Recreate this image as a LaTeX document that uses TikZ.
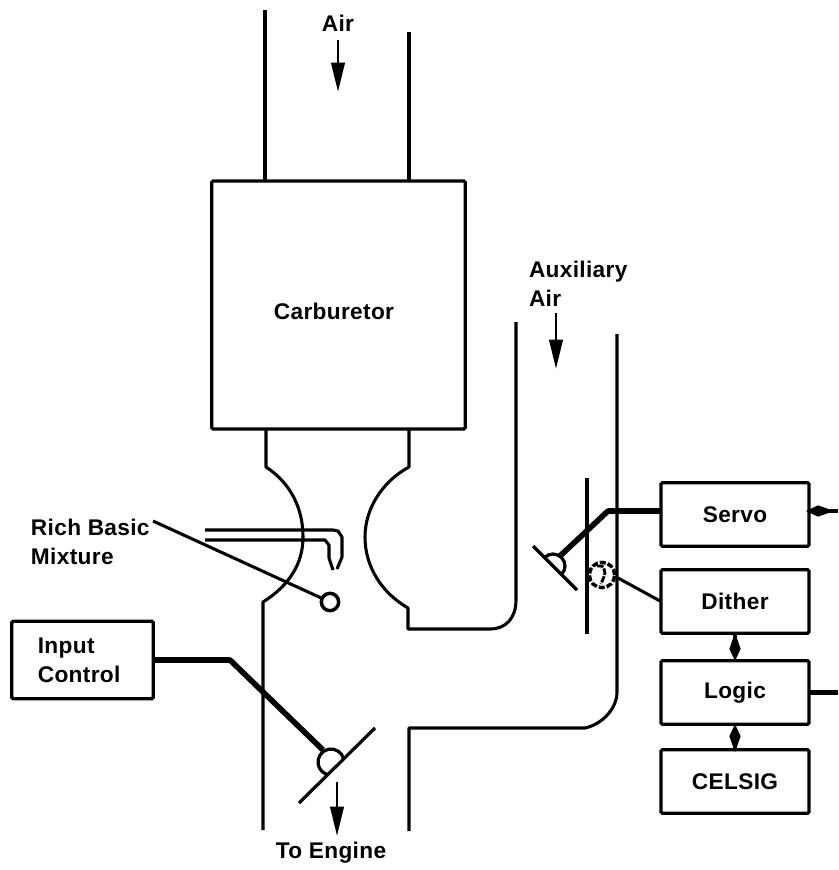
\documentclass[tikz,border=0pt]{standalone}
\usepackage{fontspec}
\setmainfont{Liberation Sans}[LetterSpace=1.5]
\usetikzlibrary{arrows.meta, positioning}

\begin{document}
\begin{tikzpicture}[
    x=0.75pt, y=0.75pt,
    every node/.style={font=\fontsize{17}{22}\selectfont\bfseries, outer sep=0pt},
    wall/.style={line width=2.3pt, line join=round},
    linkage/.style={line width=4.2pt, line join=round},
    plate/.style={line width=2.4pt},
    block/.style={draw, line width=2.4pt, rounded corners=1pt, minimum width=111pt, minimum height=47.5pt},
    flow/.style={line width=2.2pt, -{Triangle[length=22pt,width=10pt]}},
    signal/.style={line width=2.4pt, -{Kite[length=21pt,width=8.5pt,inset=12pt]}},
    label/.style={align=left, anchor=west, inner sep=0pt}
]
\useasboundingbox (0,0) rectangle (838,-870);

% Blocks
\node[block, minimum width=190pt, minimum height=186pt] (carb) at (338.5,-305) {};
\node (carblbl) at (334,-311) {Carburetor};
\node[block, minimum width=106pt, minimum height=58pt, text width=67pt, align=left] (input) at (82.5,-660) {Input\\Control};
\node[block] (servo) at (735,-514.5) {Servo};
\node[block, below=17.75pt of servo] (dither) {Dither};
\node[block, below=20.75pt of dither] (logic) {Logic};
\node[block, below=19.25pt of logic] (celsig) {CELSIG};

% Labels
\node (airlbl) at (338,-23) {Air};
\node[label] (auxlbl) at (529,-284) {Auxiliary\\Air};
\node[label] (richlbl) at (31,-542) {Rich Basic\\Mixture};
\node (enginelbl) at (331,-853) {To Engine};

% Main duct above and below the carburetor
\draw[wall] (265,-10) -- (265,-181);
\draw[wall] (409,-32) -- (409,-181);
\draw[wall] (266,-429) -- (266,-467) .. controls (292,-484) and (303,-510) .. (303,-537)
    .. controls (303,-563) and (290,-585) .. (263,-602) -- (263,-830);
\draw[wall] (409,-429) -- (409,-467) .. controls (383,-481) and (365,-508) .. (365,-537)
    .. controls (365,-567) and (382,-593) .. (408,-608) -- (408,-629) -- (490,-629)
    .. controls (506,-629) and (516,-618) .. (516,-600) -- (516,-322);
\draw[wall] (409,-831) -- (409,-728) -- (585,-728)
    .. controls (603,-724) and (617,-708) .. (617,-692) -- (617,-334);

% Fuel nozzle
\draw[wall] (205,-530) -- (333,-530) -- (338,-531) -- (342,-537) -- (342,-557) -- (337,-569);
\draw[wall] (205,-540) -- (325,-540) -- (329,-545) -- (329,-558) -- (333,-570);
\node[draw, circle, line width=2.6pt, minimum size=13pt, inner sep=0pt] (mixport) at (330,-602) {};
\coordinate (richend) at (153,-521);
\draw[wall] (richend) -- (mixport);

% Main throttle
\coordinate (mainA) at (299,-803);
\coordinate (mainB) at (375,-728);
\coordinate (mainknee) at (230,-660);
\coordinate (mainhub) at (323,-750);
\draw[plate] (mainA) -- (mainB);
\draw[plate] (331,-762) ++(12:13) arc (12:258:13);
\draw[linkage] (input.east) -- (mainknee) -- (mainhub);

% Auxiliary throttle
\coordinate (auxA) at (533,-546);
\coordinate (auxB) at (577,-590);
\coordinate (auxknee) at (608,-511);
\coordinate (auxhub) at (560,-556);
\draw[plate] (auxA) -- (auxB);
\draw[plate] (553,-566) ++(135:12) arc (135:-45:12);
\draw[wall] (587,-478) -- (587,-634);
\coordinate (servoW) at (661,-511);
\draw[linkage] (servoW) -- (auxknee) -- (auxhub);

% Dither valve
\node[draw, circle, line width=2.6pt, dash pattern=on 4.5pt off 1.5pt, minimum size=19pt, inner sep=0pt] (valve) at (602,-575) {};
\draw[line width=2.2pt, dash pattern=on 5pt off 1pt] (597,-566) -- (602,-566) .. controls (606,-572) .. (601,-584);
\coordinate (valvetap) at (618,-578);
\draw[wall] (dither.west) -- (valvetap);

% Flow arrows
\coordinate (airA) at (338,-40);
\coordinate (airB) at (338,-92);
\coordinate (auxairA) at (556,-313);
\coordinate (auxairB) at (556,-369);
\coordinate (engA) at (337,-782);
\coordinate (engB) at (337,-836);
\draw[flow] (airA) -- (airB);
\draw[flow] (auxairA) -- (auxairB);
\draw[flow] (engA) -- (engB);

% Signals
\coordinate (servoin) at (838,-511);
\coordinate (servoE) at (806,-511);
\coordinate (logicout) at (838,-692.5);
\draw[signal, line width=3pt] (servoin) -- (servoE);
\draw[linkage] (logic.east) -- (logicout);
\draw[signal] (dither) -- (logic);
\draw[signal] (celsig) -- (logic);

\end{tikzpicture}
\end{document}
